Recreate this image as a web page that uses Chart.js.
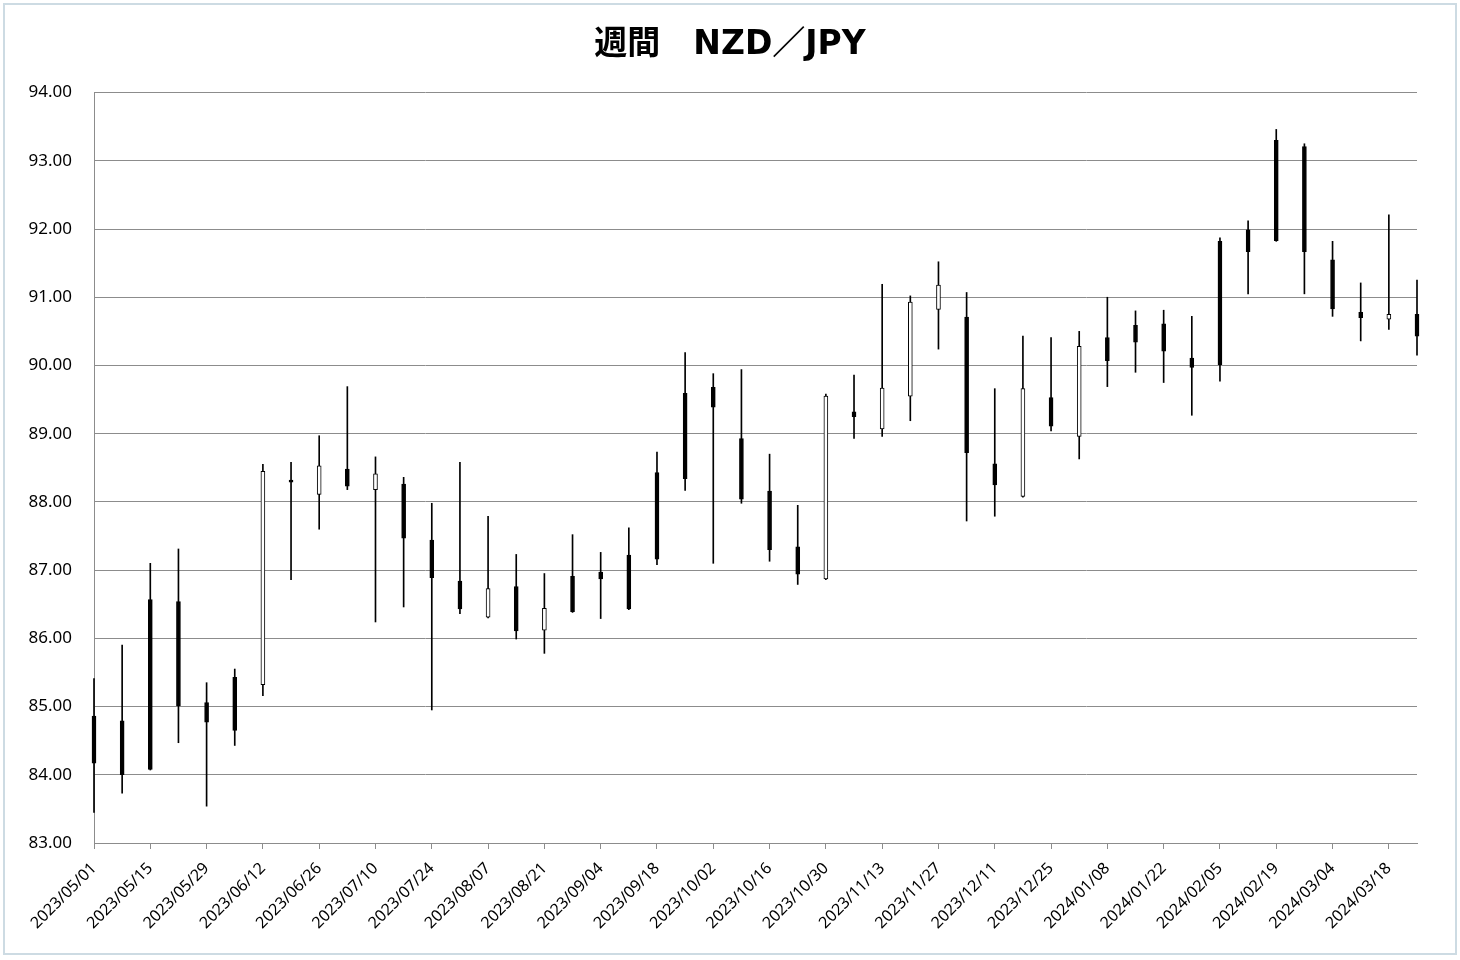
<!DOCTYPE html>
<html>
<head>
<meta charset="utf-8">
<script src="https://cdn.jsdelivr.net/npm/chart.js@4"></script>
<style>
  body { margin: 0; background: #fff; }
  #wrap { position: relative; width: 1460px; height: 960px; }
  #frame {
    position: absolute; left: 3px; top: 3px; width: 1450px; height: 948px;
    border: 2px solid #cddbe3; pointer-events: none;
  }
</style>
</head>
<body>
<div id="wrap">
  <canvas id="weeklyChart" width="1460" height="960"></canvas>
  <div id="frame"></div>
</div>
<script>
const weeks = [
  "2023/05/01", "2023/05/08", "2023/05/15", "2023/05/22", "2023/05/29",
  "2023/06/05", "2023/06/12", "2023/06/19", "2023/06/26",
  "2023/07/03", "2023/07/10", "2023/07/17", "2023/07/24", "2023/07/31",
  "2023/08/07", "2023/08/14", "2023/08/21", "2023/08/28",
  "2023/09/04", "2023/09/11", "2023/09/18", "2023/09/25",
  "2023/10/02", "2023/10/09", "2023/10/16", "2023/10/23", "2023/10/30",
  "2023/11/06", "2023/11/13", "2023/11/20", "2023/11/27",
  "2023/12/04", "2023/12/11", "2023/12/18", "2023/12/25",
  "2024/01/01", "2024/01/08", "2024/01/15", "2024/01/22", "2024/01/29",
  "2024/02/05", "2024/02/12", "2024/02/19", "2024/02/26",
  "2024/03/04", "2024/03/11", "2024/03/18", "2024/03/25",
];

const openVals = [
  84.86, 84.79, 86.57, 86.54, 85.06, 85.43, 85.32, 88.32, 88.11, 88.48,
  88.18, 88.26, 87.44, 86.84, 86.31, 86.76, 86.12, 86.91, 86.97, 87.22,
  88.43, 89.59, 89.68, 88.93, 88.16, 87.34, 86.87, 89.32, 89.07, 89.55,
  90.82, 90.71, 88.56, 88.08, 89.53, 88.96, 90.41, 90.59, 90.61, 90.11,
  91.82, 91.99, 93.30, 93.21, 91.55, 90.78, 90.68, 90.75,
];
const highVals = [
  85.41, 85.90, 87.10, 87.31, 85.35, 85.55, 88.55, 88.58, 88.97, 89.69,
  88.66, 88.36, 87.98, 88.58, 87.79, 87.23, 86.95, 87.52, 87.26, 87.62,
  88.73, 90.19, 89.88, 89.94, 88.70, 87.95, 89.58, 89.86, 91.19, 91.02,
  91.52, 91.07, 89.66, 90.43, 90.41, 90.50, 91.00, 90.80, 90.81, 90.72,
  91.87, 92.12, 93.46, 93.25, 91.82, 91.21, 92.21, 91.25,
];
const lowVals = [
  83.45, 83.73, 84.07, 84.47, 83.54, 84.43, 85.16, 86.86, 87.60, 88.18,
  86.24, 86.46, 84.95, 86.36, 86.30, 85.99, 85.78, 86.38, 86.29, 86.42,
  87.08, 88.17, 87.10, 87.98, 87.13, 86.79, 86.86, 88.93, 88.96, 89.19,
  90.24, 87.72, 87.79, 88.07, 89.04, 88.63, 89.69, 89.90, 89.75, 89.27,
  89.77, 91.05, 91.82, 91.05, 90.72, 90.36, 90.53, 90.15,
];
const closeVals = [
  84.17, 84.00, 84.08, 85.01, 84.77, 84.65, 88.45, 88.29, 88.53, 88.23,
  88.41, 87.47, 86.89, 86.43, 86.73, 86.11, 86.44, 86.39, 86.87, 86.43,
  87.16, 88.34, 89.39, 88.04, 87.30, 86.94, 89.55, 89.25, 89.67, 90.93,
  91.18, 88.72, 88.25, 89.66, 89.11, 90.28, 90.07, 90.34, 90.21, 89.97,
  90.01, 91.67, 91.83, 91.67, 90.83, 90.70, 90.75, 90.43,
];

const yTicksMin = 83;
const yTicksMax = 94;

const weeklyCandleChart = () => {
  let ctx = document.getElementById("weeklyChart").getContext("2d");

  const bodies = openVals.map((o, i) => [Math.min(o, closeVals[i]), Math.max(o, closeVals[i])]);
  const wicks = lowVals.map((l, i) => [l, highVals[i]]);
  const bodyColors = openVals.map((o, i) => (closeVals[i] >= o ? "#ffffff" : "#000000"));

  let myChart = new Chart(ctx, {
    type: "bar",
    data: {
      labels: weeks,
      datasets: [
        {
          label: "body",
          data: bodies,
          backgroundColor: bodyColors,
          borderColor: "#000000",
          borderWidth: 1,
          borderSkipped: false,
          barThickness: 4,
          minBarLength: 2,
          grouped: false,
          clip: false,
        },
        {
          label: "wick",
          data: wicks,
          backgroundColor: "#000000",
          borderWidth: 0,
          barThickness: 1,
          grouped: false,
          clip: false,
        },
      ],
    },
    options: {
      responsive: false,
      animation: false,
      layout: { padding: 0 },
      plugins: {
        legend: { display: false },
        tooltip: { enabled: false },
        title: {
          display: true,
          text: "週間　NZD／JPY",
          color: "#000000",
          font: { family: "'DejaVu Sans', 'Noto Sans CJK JP'", size: 33, weight: "bold" },
          padding: { top: 26, bottom: 27 },
        },
      },
      scales: {
        x: {
          offset: false,
          grid: {
            display: true,
            offset: false,
            drawOnChartArea: false,
            color: "#8c8c8c",
            tickLength: 6,
          },
          border: { color: "#8c8c8c" },
          ticks: {
            autoSkip: false,
            minRotation: 45,
            maxRotation: 45,
            color: "#000000",
            padding: 10,
            font: { family: "'Noto Sans'", size: 16 },
            callback: (v, i) => (i % 2 === 0 ? weeks[i] : null),
          },
          afterFit: (scale) => {
            scale.height = 117;
          },
        },
        y: {
          min: yTicksMin,
          max: yTicksMax,
          grid: { color: "#8c8c8c", drawTicks: false },
          border: { color: "#8c8c8c" },
          ticks: {
            stepSize: 1,
            padding: 22,
            color: "#000000",
            font: { family: "'Noto Sans'", size: 17 },
            callback: (v) => v.toFixed(2),
          },
          afterFit: (scale) => {
            scale.width = 94;
          },
        },
        // empty right axis, only keeps the right margin so the title stays centred
        yRight: {
          position: "right",
          grid: { display: false },
          border: { display: false },
          ticks: { display: false },
          afterFit: (scale) => {
            scale.width = 43;
          },
        },
      },
    },
  });
};

weeklyCandleChart();
</script>
</body>
</html>
